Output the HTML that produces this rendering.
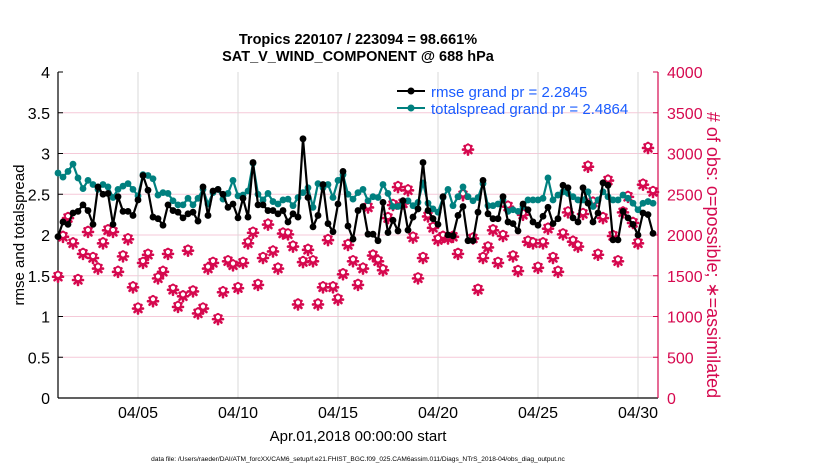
<!DOCTYPE html>
<html><head><meta charset="utf-8"><style>
body{margin:0;background:#fff;}
svg{display:block;font-family:"Liberation Sans",Arial,sans-serif;}
</style></head><body>
<svg id="chart" width="830" height="470" viewBox="0 0 830 470">
<text x="358" y="44" text-anchor="middle" font-size="14.5" font-weight="bold">Tropics 220107 / 223094 = 98.661%</text>
<text x="358" y="61" text-anchor="middle" font-size="14.5" font-weight="bold">SAT_V_WIND_COMPONENT @ 688 hPa</text>
<g id="grid"></g>
<g id="axes"></g>
<g id="marks"></g>
<text transform="translate(24,235) rotate(-90)" text-anchor="middle" font-size="15">rmse and totalspread</text>
<text transform="translate(707,255) rotate(90)" text-anchor="middle" font-size="18" fill="#d6094f"># of obs: o=possible; ∗=assimilated</text>
<text x="358" y="441" text-anchor="middle" font-size="15">Apr.01,2018 00:00:00 start</text>
<text x="358" y="461" text-anchor="middle" font-size="6.6">data file: /Users/raeder/DAI/ATM_forcXX/CAM6_setup/f.e21.FHIST_BGC.f09_025.CAM6assim.011/Diags_NTrS_2018-04/obs_diag_output.nc</text>
<g>
<line x1="397" y1="91" x2="425" y2="91" stroke="#000" stroke-width="2"/><circle cx="411" cy="91" r="3.5" fill="#000"/>
<text x="431" y="97" font-size="15" fill="#1a5cff">rmse grand pr = 2.2845</text>
<line x1="397" y1="108" x2="425" y2="108" stroke="#00807f" stroke-width="2"/><circle cx="411" cy="108" r="3.5" fill="#00807f"/>
<text x="431" y="114" font-size="15" fill="#1a5cff">totalspread grand pr = 2.4864</text>
</g>
</svg>
<script>
const rmse=[1.98,2.16,2.13,2.27,2.29,2.37,2.30,2.13,2.59,2.50,2.51,2.13,2.47,2.29,2.29,2.24,2.43,2.73,2.55,2.22,2.20,2.12,2.37,2.30,2.28,2.21,2.26,2.28,2.17,2.59,2.24,2.54,2.56,2.50,2.34,2.38,2.21,2.45,2.22,2.89,2.37,2.37,2.30,2.30,2.26,2.30,2.16,2.26,2.22,3.18,2.46,2.10,2.24,2.62,2.14,2.04,2.38,2.78,2.11,1.95,2.30,2.35,2.01,2.01,1.93,2.40,2.03,2.18,2.05,2.42,2.06,2.22,2.32,2.89,2.30,2.20,2.13,
2.47,2.00,1.99,2.24,2.35,1.93,1.93,2.28,2.67,2.26,2.20,2.20,2.47,
2.16,2.14,2.05,2.38,2.31,2.16,2.12,2.23,2.34,2.14,2.20,2.61,2.58,2.21,2.16,2.58,2.39,2.16,2.27,2.64,2.61,1.94,1.94,2.29,2.21,2.13,2.00,2.27,2.25,2.02];
const spread=[2.76,2.71,2.78,2.87,2.70,2.57,2.67,2.62,2.56,2.62,2.59,2.46,2.56,2.60,2.63,2.56,2.48,2.74,2.73,2.69,2.49,2.52,2.51,2.42,2.37,2.37,2.45,2.37,2.45,2.56,2.38,2.52,2.56,2.44,2.51,2.67,2.48,2.49,2.54,2.88,2.50,2.43,2.51,2.41,2.38,2.43,2.44,2.36,2.46,2.52,2.58,2.34,2.63,2.58,2.62,2.46,2.67,2.74,2.50,2.44,2.52,2.56,2.42,2.47,2.46,2.62,2.51,2.35,2.35,2.42,2.42,2.36,2.40,2.64,2.39,2.32,2.28,
2.46,2.56,2.36,2.47,2.59,2.47,2.42,2.46,2.63,2.36,2.36,2.38,2.43,
2.29,2.31,2.29,2.35,2.43,2.43,2.43,2.45,2.70,2.43,2.49,2.53,2.51,2.47,2.43,2.43,2.53,2.35,2.43,2.53,2.47,2.43,2.43,2.49,2.45,2.39,2.31,2.39,2.41,2.39];
const obsAssimilated=[1500,1990,2220,1910,1460,1780,2050,1730,1600,1910,2070,2050,1560,1750,1960,1370,1110,1670,1770,1200,1480,1560,1780,1340,1130,1260,1820,1320,1050,1110,1600,1670,980,1310,1690,1640,1360,1670,1910,2040,1400,1730,2140,1810,1600,2030,2020,1870,1160,1680,1830,1690,1160,1370,1950,1370,1220,1530,1890,1690,1400,1600,2350,1760,1690,1580,2220,2380,2600,2400,2560,1980,1480,1730,2240,2100,1950,
1990,1970,1990,1780,2500,3060,1970,1340,1730,1860,2070,1670,2000,2360,1750,1570,2260,1930,1910,1610,1910,2090,1730,1560,2020,2290,1930,1870,2270,2850,2410,1770,2220,2680,2000,1690,2290,2480,2160,1910,2630,3080,2540];
const obsPossible=obsAssimilated;
const leftTicks=[0,0.5,1,1.5,2,2.5,3,3.5,4];
const leftTickLabels=["0","0.5","1","1.5","2","2.5","3","3.5","4"];
const rightTicks=[0,500,1000,1500,2000,2500,3000,3500,4000];
const xTickDays=[5,10,15,20,25,30];
const xTickLabels=["04/05","04/10","04/15","04/20","04/25","04/30"];

const NS="http://www.w3.org/2000/svg";
const X0=58,X1=658,Y0=398,Y1=72;
const xDay=d=>X0+(d-1)/30*(X1-X0);
const xIdx=i=>xDay(1+i*0.25);
const yL=v=>Y0-v/4*(Y0-Y1);
const yR=v=>Y0-v/4000*(Y0-Y1);
function mk(tag,attrs,parent){const e=document.createElementNS(NS,tag);for(const k in attrs)e.setAttribute(k,attrs[k]);parent.appendChild(e);return e;}
const grid=document.getElementById('grid'),axes=document.getElementById('axes'),marks=document.getElementById('marks');
leftTicks.forEach((t,k)=>{
  if(t>0&&t<4){const g=mk('line',{x1:X0,x2:X1,y1:yL(t),y2:yL(t),stroke:'#f5c9d8','stroke-width':1},grid);
  
  }
  const l=mk('text',{x:X0-8,y:yL(t)+6,'text-anchor':'end','font-size':16},axes);l.textContent=leftTickLabels[k];
  
  
  mk('line',{x1:X0,x2:X0+5,y1:yL(t),y2:yL(t),stroke:'#000'},axes);
});
rightTicks.forEach(t=>{
  const l=mk('text',{x:X1+9,y:yR(t)+6,'font-size':16,fill:'#d6094f'},axes);l.textContent=String(t);
  
  
  mk('line',{x1:X1-5,x2:X1,y1:yR(t),y2:yR(t),stroke:'#d6094f'},axes);
});
xTickDays.forEach((d,k)=>{
  const g=mk('line',{x1:xDay(d),x2:xDay(d),y1:Y1,y2:Y0,stroke:'#d9d9d9'},grid);
  
  
  const l=mk('text',{x:xDay(d),y:Y0+20,'text-anchor':'middle','font-size':16},axes);l.textContent=xTickLabels[k];
  
  
});
mk('line',{x1:X0,x2:X0,y1:Y1,y2:Y0,stroke:'#000','stroke-width':1.2},axes);
mk('line',{x1:X0,x2:X1,y1:Y0,y2:Y0,stroke:'#000','stroke-width':1.2},axes);
mk('line',{x1:X1,x2:X1,y1:Y1,y2:Y0,stroke:'#d6094f','stroke-width':1.2},axes);
obsAssimilated.forEach((v,i)=>{
  const x=xIdx(i),y=yR(v);
  const g=mk('g',{stroke:'#d6094f','stroke-width':2.6,fill:'none','stroke-linecap':'round'},marks);
  
  
  mk('line',{x1:x-5,x2:x+5,y1:y+1,y2:y+1},g);
  mk('line',{x1:x,x2:x,y1:y-4,y2:y+6},g);
  mk('line',{x1:x-3.5,x2:x+3.5,y1:y-2.5,y2:y+4.5},g);
  mk('line',{x1:x-3.5,x2:x+3.5,y1:y+4.5,y2:y-2.5},g);
});
obsPossible.forEach((v,i)=>{
  const c=mk('circle',{cx:xIdx(i),cy:yR(v)-1,r:3,fill:'#fff',stroke:'#d6094f','stroke-width':1.8},marks);
  
  
});
function series(arr,color,name){
  const p=mk('polyline',{points:arr.map((v,i)=>xIdx(i)+','+yL(v)).join(' '),fill:'none',stroke:color,'stroke-width':2.2,'stroke-linejoin':'round'},marks);
  
  
  arr.forEach((v,i)=>{const c=mk('circle',{cx:xIdx(i),cy:yL(v),r:3.4,fill:color},marks);
  
  });
}
series(spread,'#00807f','totalspread');
series(rmse,'#000000','rmse');
</script>
</body></html>
